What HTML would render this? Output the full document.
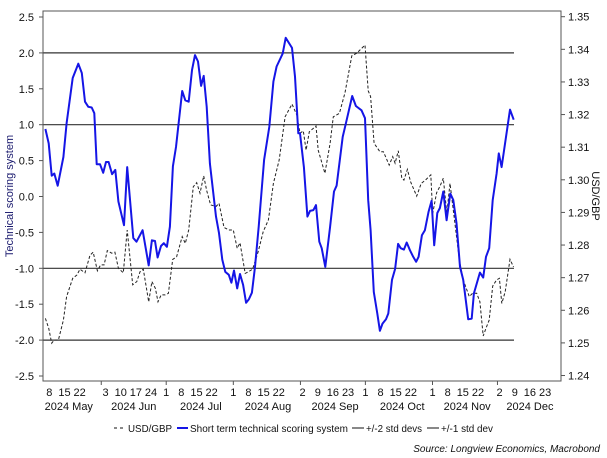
<!DOCTYPE html>
<html><head><meta charset="utf-8"><style>
body{margin:0;background:#fff;}
svg{display:block;font-family:"Liberation Sans",Arial,sans-serif;}
</style></head><body>
<svg id="chart" width="607" height="458" viewBox="0 0 607 458" xmlns="http://www.w3.org/2000/svg">
<g id="grid"></g>
<g id="series"></g>
<rect x="43" y="11" width="518" height="370" fill="none" stroke="#555" stroke-width="1"/>
<g id="axes" font-size="11" fill="#111"></g>
<text transform="translate(13,196) rotate(-90)" text-anchor="middle" font-size="11" fill="#1a1a6e">Technical scoring system</text>
<text transform="translate(592,196) rotate(90)" text-anchor="middle" font-size="11" fill="#111">USD/GBP</text>
<g font-size="10.5" fill="#111">
<line x1="114" y1="428" x2="124" y2="428" stroke="#111" stroke-dasharray="3,3"/>
<text x="128" y="432" textLength="44" lengthAdjust="spacingAndGlyphs">USD/GBP</text>
<line x1="177" y1="428" x2="188" y2="428" stroke="#1515e6" stroke-width="2"/>
<text x="190" y="432" textLength="158" lengthAdjust="spacingAndGlyphs">Short term technical scoring system</text>
<line x1="352" y1="428" x2="364" y2="428" stroke="#111"/>
<text x="366" y="432" textLength="56" lengthAdjust="spacingAndGlyphs">+/-2 std devs</text>
<line x1="427" y1="428" x2="439" y2="428" stroke="#111"/>
<text x="441" y="432" textLength="52" lengthAdjust="spacingAndGlyphs">+/-1 std dev</text>
</g>
<text x="600" y="452" text-anchor="end" font-size="10" font-style="italic" fill="#111">Source: Longview Economics, Macrobond</text>
</svg>
<script>
const scoreDays=[-1.8,-0.3,1.1,2.3,3.9,6.5,8,10.8,13.4,15,16.5,18,19.6,20.8,21.9,23.4,24.9,26.2,27.4,29,30.5,31.9,34.5,36,38.8,40.3,43.1,45.9,47.4,48.8,50,51.6,52.9,54.3,55.7,57.1,58.5,61.4,62.8,64.4,65.9,67.3,68.7,70.1,71.3,72.7,74.2,77,78.4,79.9,81.3,82.9,84.1,85.3,86.8,88.1,89.5,90.9,92.2,93.6,95,96.7,99.2,101.6,103.5,105,107.8,109.2,112.1,113.5,115,115.8,117.6,119.2,120.4,122,123.2,124.7,125.8,127.5,129.7,131.5,132.7,135.5,137,139.9,141.6,144.2,145.8,147.3,148.4,149.9,151.5,152.7,153.9,155.5,156.6,158.3,159.7,161.1,162.3,163.8,165.1,166.6,168.1,169.4,170.6,172.1,173.5,175.2,176.6,177.8,179.2,180.4,182,183.5,185.2,186.6,188.1,189.7,191.2,193.5,195.1,196.1,198.9,200.4,201.7,203.2,204.8,206.6,207.6,208.9,212.8,214.5];
const scoreValues=[0.94,0.74,0.29,0.32,0.15,0.55,1.02,1.65,1.85,1.72,1.32,1.25,1.24,1.16,0.45,0.45,0.33,0.48,0.48,0.31,0.37,-0.07,-0.40,0.41,-0.58,-0.63,-0.47,-0.96,-0.61,-0.62,-0.85,-0.69,-0.65,-0.70,-0.42,0.42,0.69,1.47,1.34,1.32,1.76,1.97,1.88,1.54,1.68,1.25,0.46,-0.28,-0.51,-0.88,-1.05,-1.09,-1.20,-1.03,-1.28,-1.08,-1.23,-1.48,-1.43,-1.34,-0.98,-0.42,0.51,0.97,1.60,1.81,1.99,2.21,2.07,1.67,0.88,0.88,0.41,-0.28,-0.20,-0.19,-0.12,-0.63,-0.72,-0.98,-0.42,0.07,0.15,0.83,1.02,1.40,1.26,1.20,1.09,-0.05,-0.47,-1.33,-1.63,-1.87,-1.77,-1.71,-1.63,-1.16,-1.01,-0.66,-0.72,-0.74,-0.64,-0.75,-0.84,-0.91,-0.84,-0.54,-0.47,-0.21,-0.06,-0.68,-0.23,-0.16,0.07,-0.33,0.04,-0.05,-0.37,-0.98,-1.16,-1.71,-1.70,-1.35,-1.06,-1.13,-0.84,-0.72,-0.05,0.32,0.60,0.41,1.21,1.07];
const fxDays=[-1.8,-0.3,1.1,2.3,4.2,6.5,8,10.8,12.7,14.2,16.5,18.8,20.3,22.2,23.7,25.3,26.8,28.8,30.3,31.9,34.2,36,38.5,40.4,41.9,43.4,45.9,47.4,49,50.2,51.7,53.5,55,57,58.8,61.4,62.8,64.4,66.5,68.1,69.6,71.3,72.7,74.5,77,78.4,80.7,82.9,85,86.8,88.1,90.5,91.9,93.9,96.5,98.8,101.2,103.5,106.2,108.9,112.1,114.3,115.8,117.3,118.6,120.1,123.2,124.2,127.3,129.7,131.2,134,136.6,139.7,142,145.8,147.3,148.4,150,152.7,154.3,157,158.6,159.7,161.2,162.8,163.8,165.4,166.9,169.7,171.8,173.7,176.2,177.1,178.9,180.5,182,183.6,185.1,186.6,189.4,191.2,194,195.5,197.4,198.9,200.4,201.7,203.2,204.8,206.6,207.9,209,210.6,212.8,214.4];
const fxValues=[1.2575,1.2545,1.2499,1.2509,1.2509,1.2570,1.2642,1.2698,1.2708,1.2726,1.2715,1.2769,1.2778,1.2721,1.2739,1.2739,1.2783,1.2775,1.2778,1.2729,1.2715,1.2846,1.2678,1.2688,1.2718,1.2726,1.2626,1.2688,1.2667,1.2626,1.2647,1.2647,1.2652,1.2756,1.2764,1.2826,1.2805,1.2846,1.2979,1.2991,1.2959,1.3012,1.2967,1.2923,1.2918,1.2928,1.2854,1.2846,1.2846,1.2790,1.2807,1.2713,1.2718,1.2726,1.2780,1.2841,1.2877,1.2989,1.3061,1.3193,1.3232,1.3199,1.3143,1.3150,1.3091,1.3147,1.3165,1.3091,1.3020,1.3112,1.3193,1.3204,1.3267,1.3380,1.3388,1.3413,1.3273,1.3255,1.3112,1.3086,1.3086,1.3045,1.3071,1.3051,1.3089,1.3005,1.2999,1.3032,1.2994,1.2950,1.2989,1.2999,1.3015,1.2897,1.2960,1.2981,1.3005,1.2897,1.2989,1.2907,1.2754,1.2693,1.2642,1.2652,1.2652,1.2626,1.2521,1.2545,1.2570,1.2674,1.2693,1.2698,1.2621,1.2657,1.2756,1.2733];
const bandLevels=[2,1,-1,-2];
const leftTicks=[2.5,2.0,1.5,1.0,0.5,0.0,-0.5,-1.0,-1.5,-2.0,-2.5];
const rightTicks=[1.35,1.34,1.33,1.32,1.31,1.30,1.29,1.28,1.27,1.26,1.25,1.24];
const dayLabels=["8","15","22","3","10","17","24","1","8","15","22","1","8","15","22","2","9","16","23","1","8","15","22","1","8","15","22","2","9","16","23"];
const dayLabelPos=[0,7,14,26,33,40,47,54,61,68,75,85,92,99,106,117,124,131,138,146,153,160,167,177,184,191,198,208,215,222,229];
const monthLabels=["2024 May","2024 Jun","2024 Jul","2024 Aug","2024 Sep","2024 Oct","2024 Nov","2024 Dec"];
const monthLabelPos=[9,39,70,101,132,163,193,222];
const monthTickPos=[24,54,85,116,146,177,207];

const NS="http://www.w3.org/2000/svg";
const xS=d=>49.3+d*2.165;
const yL=v=>196.5-v*71.8;
const yR=v=>16.7+(1.35-v)*3262;
function mk(tag,attrs,parent,txt){const e=document.createElementNS(NS,tag);for(const k in attrs)e.setAttribute(k,attrs[k]);if(txt!==undefined)e.textContent=txt;parent.appendChild(e);return e;}
const grid=document.getElementById('grid'),series=document.getElementById('series'),axes=document.getElementById('axes');
bandLevels.forEach(b=>{const l=mk('line',{x1:43,x2:514,y1:yL(b),y2:yL(b),stroke:'#333','stroke-width':1.2},grid);

});
const fx=mk('polyline',{points:fxDays.map((d,i)=>xS(d).toFixed(1)+','+yR(fxValues[i]).toFixed(1)).join(' '),fill:'none',stroke:'#222','stroke-width':1,'stroke-dasharray':'3,2'},series);


const sc=mk('polyline',{points:scoreDays.map((d,i)=>xS(d).toFixed(1)+','+yL(scoreValues[i]).toFixed(1)).join(' '),fill:'none',stroke:'#1515e6','stroke-width':2,'stroke-linejoin':'round'},series);


leftTicks.forEach(v=>{const y=yL(v);mk('line',{x1:39,x2:43,y1:y,y2:y,stroke:'#555'},axes);
const t=mk('text',{x:34,y:y+4,'text-anchor':'end'},axes,v.toFixed(1));

});
rightTicks.forEach(v=>{const y=yR(v);mk('line',{x1:561,x2:565,y1:y,y2:y,stroke:'#555'},axes);
const t=mk('text',{x:568,y:y+4},axes,v.toFixed(2));

});
dayLabels.forEach((s,i)=>{const t=mk('text',{x:xS(dayLabelPos[i]),y:396,'text-anchor':'middle'},axes,s);

});
monthLabels.forEach((s,i)=>{const t=mk('text',{x:xS(monthLabelPos[i]),y:410,'text-anchor':'middle'},axes,s);

});
monthTickPos.forEach(d=>{mk('line',{x1:xS(d),x2:xS(d),y1:381,y2:385,stroke:'#555'},axes);});
</script>
</body></html>
